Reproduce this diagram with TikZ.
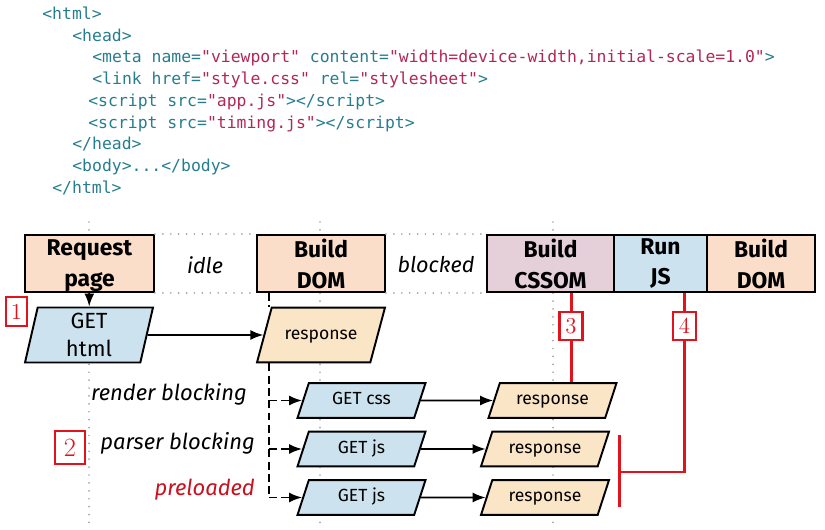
\documentclass[tikz,border=0pt]{standalone}
\usepackage{fontspec}
\setsansfont{Fira Sans}
\setmonofont{DejaVu Sans Mono}
\usepackage{xcolor}
\usetikzlibrary{positioning, shapes.geometric, arrows.meta}

\definecolor{peach}{RGB}{250,222,202}
\definecolor{sand}{RGB}{251,229,199}
\definecolor{mauve}{RGB}{229,208,218}
\definecolor{sky}{RGB}{204,226,238}
\definecolor{tagc}{RGB}{38,125,142}
\definecolor{valc}{RGB}{176,40,84}
\definecolor{numred}{RGB}{225,20,30}
\definecolor{prel}{RGB}{200,16,30}

\newcommand{\vl}[1]{\textcolor{valc}{#1}}

\begin{document}
\begin{tikzpicture}[x=0.02cm, y=-0.02cm,
        font=\sffamily,
        code/.style={anchor=base west, inner sep=0pt, text=tagc,
            font=\ttfamily\fontsize{9.35}{11}\selectfont},
        stage/.style={rectangle, draw=black, line width=1.1pt, minimum height=1.14cm,
            align=center, inner sep=0pt,
            font=\sffamily\bfseries\fontsize{13}{17.6}\selectfont},
        gap/.style={font=\sffamily\itshape\fontsize{12.3}{14}\selectfont},
        para/.style={trapezium, trapezium left angle=72, trapezium right angle=108,
            trapezium stretches body, draw=black, line width=1.1pt, minimum width=2.56cm,
            text height=7.5pt, text depth=2.5pt, inner xsep=0pt, inner ysep=4.9pt,
            font=\sffamily\fontsize{10}{12}\selectfont},
        tall/.style={inner ysep=10.6pt, trapezium left angle=75, trapezium right angle=105},
        ask/.style={para, fill=sky},
        resp/.style={para, fill=sand},
        note/.style={anchor=east, font=\sffamily\itshape\fontsize{12.5}{14}\selectfont},
        num/.style={rectangle, draw=numred, line width=1.4pt, fill=white, text=numred,
            inner sep=0pt, minimum width=0.46cm, minimum height=0.56cm,
            font=\rmfamily\fontsize{13}{13}\selectfont},
        grid/.style={gray!70, line width=1.1pt, line cap=round, dash pattern=on 0pt off 4.5pt},
        arr/.style={-{Latex[length=2.6mm, width=2mm]}, line width=1pt},
        fetch/.style={arr, line width=1.1pt, dash pattern=on 4.5pt off 2.5pt},
        cue/.style={numred, line width=1.7pt}
    ]
    \useasboundingbox (0,0) rectangle (825,530);

    % source
    \node[code] (c1) at (42,20)  {<html>};
    \node[code] (c2) at (72,42)  {<head>};
    \node[code] (c3) at (92,63)  {<meta name=\vl{"viewport"} content=\vl{"width=device-width,initial-scale=1.0"}>};
    \node[code] (c4) at (92,85)  {<link href=\vl{"style.css"} rel=\vl{"stylesheet"}>};
    \node[code] (c5) at (88,107) {<script src=\vl{"app.js"}></script>};
    \node[code] (c6) at (88,129) {<script src=\vl{"timing.js"}></script>};
    \node[code] (c7) at (72,150) {</head>};
    \node[code] (c8) at (72,172) {<body>...</body>};
    \node[code] (c9) at (52,194) {</html>};

    % timeline
    \draw[grid] (89,222) -- (89,530);
    \draw[grid] (320,222) -- (320,530);
    \draw[grid] (553,222) -- (553,530);

    \node[stage, fill=peach, minimum width=2.58cm] (req)   at (89.5,263.5) {Request\\\raisebox{0pt}[\height][0pt]{page}};
    \node[gap] (idle) at (205,265) {idle};
    \node[stage, fill=peach, minimum width=2.56cm] (dom)   at (321,263.5) {Build\\DOM};
    \node[gap] (blocked) at (436,265) {blocked};
    \node[stage, fill=mauve, minimum width=2.54cm] (cssom) at (550.5,263.5) {Build\\CSSOM};
    \node[stage, fill=sky, minimum width=1.86cm]   (runjs) at (660.5,263.5) {Run\\JS};
    \node[stage, fill=peach, minimum width=2.16cm] (dom2)  at (761,263.5) {Build\\DOM};

    \draw[grid] (req.north east) -- (dom.north west);
    \draw[grid] (req.south east) -- (dom.south west);
    \draw[grid] (dom.north east) -- (cssom.north west);
    \draw[grid] (dom.south east) -- (cssom.south west);

    % requests
    \node[ask, tall, inner ysep=1pt, minimum height=1.1cm, text height=, text depth=, align=center,
        font=\sffamily\fontsize{12.5}{16}\selectfont] (gethtml) at (89,335) {GET\\html};
    \node[resp, tall] (resp1) at (321,335) {response};
    \node[ask]  (getcss) at (361.5,400.5) {GET css};
    \node[resp] (resp2)  at (552.5,400.5) {response};
    \node[ask]  (getjs)  at (361.5,449) {GET js};
    \node[resp] (resp3)  at (545,449) {response};
    \node[ask]  (getjs2) at (361.5,497.5) {GET js};
    \node[resp] (resp4)  at (545,497.5) {response};

    \draw[arr] (req) -- (gethtml);
    \draw[arr] (gethtml) -- (resp1);
    \draw[arr] (getcss) -- (resp2);
    \draw[arr] (getjs) -- (resp3);
    \draw[arr] (getjs2) -- (resp4);

    \coordinate (F) at ([xshift=0.26cm]dom.south west);
    \draw[fetch, -] (F) -- (F |- resp1.north);
    \draw[fetch, -] (F |- resp1.south) -- (F |- getjs2.west);
    \draw[fetch] (F |- getcss.west) -- (getcss.west);
    \draw[fetch] (F |- getjs.west) -- (getjs.west);
    \draw[fetch] (F |- getjs2.west) -- (getjs2.west);

    \node[note] (render) at (253,394) {render blocking};
    \node[note] (parser) at (261,443) {parser blocking};
    \node[note, text=prel] (preload) at (261,490) {preloaded};

    % markers
    \node[num, minimum width=0.42cm, minimum height=0.58cm] (n1) at (16.5,311.5) {1};
    \node[num, minimum width=0.6cm, minimum height=0.66cm, font=\rmfamily\fontsize{15}{15}\selectfont] (n2) at (70,447.5) {2};
    \node[num] (n3) at (571,326) {3};
    \node[num] (n4) at (684.5,326) {4};
    \coordinate (B) at (619,472);
    \coordinate (Btop) at (619,435);
    \coordinate (Bbot) at (619,507);

    \draw[cue] (n3 |- cssom.south) -- (n3.north);
    \draw[cue] (n3.south) -- (n3 |- resp2.north);
    \draw[cue] (n4 |- runjs.south) -- (n4.north);
    \draw[cue] (n4.south) -- (n4 |- B) -- (B);
    \draw[cue] (Btop) -- (Bbot);
\end{tikzpicture}
\end{document}
